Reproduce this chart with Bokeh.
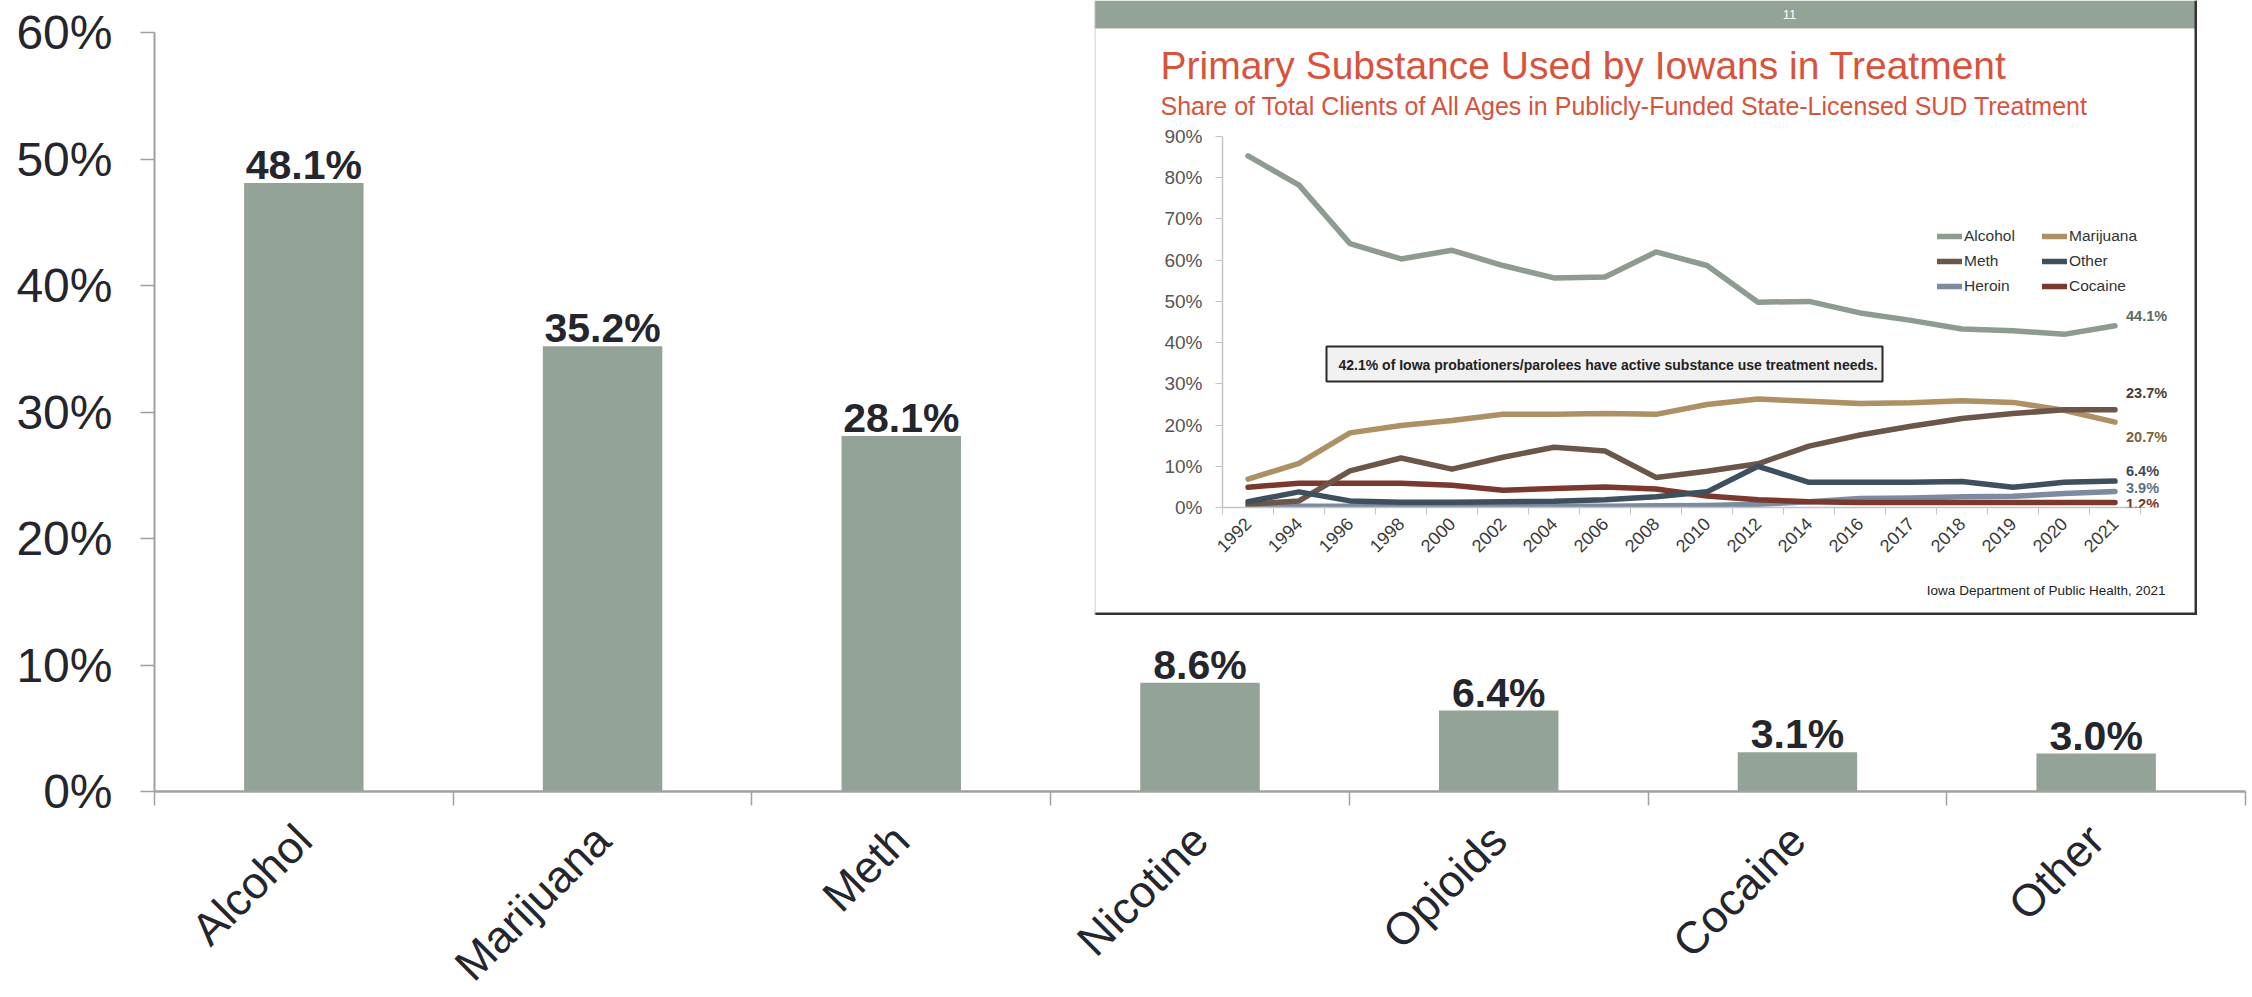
import math
from bokeh.plotting import figure
from bokeh.models import (ColumnDataSource, Range1d, FixedTicker, NumeralTickFormatter,
                          LabelSet, Label, Legend, LegendItem, Column)
from bokeh.embed import file_html
from bokeh.resources import INLINE
from bokeh.core.properties import value

# ---------------- data: main bar chart ----------------
substances = ["Alcohol", "Marijuana", "Meth", "Nicotine", "Opioids", "Cocaine", "Other"]
shares = [48.1, 35.2, 28.1, 8.6, 6.4, 3.1, 3.0]
main_y_ticks = [0, 10, 20, 30, 40, 50, 60]

# ---------------- data: inset line chart ----------------
years = ["1992", "1994", "1996", "1998", "2000", "2002", "2004", "2006", "2008",
         "2010", "2012", "2014", "2016", "2017", "2018", "2019", "2020", "2021"]
alcohol = [85.3, 78.2, 64.0, 60.3, 62.4, 58.7, 55.7, 55.9, 62.0, 58.7, 49.8, 50.0, 47.2, 45.4, 43.3, 42.9, 42.0, 44.1]
marijuana = [6.9, 10.7, 18.1, 19.9, 21.1, 22.6, 22.6, 22.8, 22.6, 25.0, 26.3, 25.8, 25.2, 25.4, 25.9, 25.5, 23.6, 20.7]
meth = [0.8, 1.6, 8.9, 12.0, 9.3, 12.2, 14.6, 13.7, 7.3, 8.8, 10.6, 14.9, 17.6, 19.7, 21.6, 22.8, 23.7, 23.7]
other = [1.4, 3.8, 1.6, 1.3, 1.3, 1.4, 1.5, 1.9, 2.6, 3.8, 10.0, 6.1, 6.1, 6.1, 6.3, 4.9, 6.1, 6.4]
heroin = [0.3, 0.3, 0.3, 0.3, 0.3, 0.3, 0.3, 0.3, 0.4, 0.5, 0.8, 1.4, 2.2, 2.3, 2.6, 2.7, 3.4, 3.9]
cocaine = [4.9, 5.9, 5.9, 5.9, 5.4, 4.2, 4.6, 5.0, 4.5, 2.8, 1.9, 1.4, 1.2, 1.2, 1.2, 1.2, 1.2, 1.2]
inset_y_ticks = [0, 10, 20, 30, 40, 50, 60, 70, 80, 90]

inset_title = "Primary Substance Used by Iowans in Treatment"
inset_subtitle = "Share of Total Clients of All Ages in Publicly-Funded State-Licensed SUD Treatment"
inset_note = "42.1% of Iowa probationers/parolees have active substance use treatment needs."
inset_source = "Iowa Department of Public Health, 2021"
inset_page = "11"

# ---------------- styles ----------------
FONT = "Liberation Sans"
BAR = "#94a397"
DARK = "#25252d"
AXIS_GREY = "#a0a0a0"
RED = "#d8533c"

# ================= main figure =================
main = figure(width=2252, height=1026,
              x_range=Range1d(0, len(substances)), y_range=Range1d(0, 0.6),
              output_backend="svg", toolbar_location=None,
              min_border_left=154, min_border_right=7,
              min_border_top=32, min_border_bottom=235,
              outline_line_color=None)
main.xgrid.visible = False
main.ygrid.visible = False

xs = [i + 0.5 for i in range(len(substances))]
src = ColumnDataSource(dict(x=xs, top=[s / 100 for s in shares],
                            label=[f"{s:.1f}%" for s in shares]))
main.vbar(x="x", top="top", bottom=0, width=0.4, source=src,
          fill_color=BAR, line_color=None)
main.add_layout(LabelSet(x="x", y="top", text="label", source=src,
                         text_align="center", text_baseline="alphabetic", y_offset=4,
                         text_font=value(FONT), text_font_size="41px",
                         text_font_style="bold", text_color=DARK))

xa = main.xaxis[0]
xa.ticker = FixedTicker(ticks=xs, minor_ticks=list(range(len(substances) + 1)))
xa.major_label_overrides = {x: s for x, s in zip(xs, substances)}
xa.major_label_orientation = math.pi / 4
xa.major_tick_out = 0
xa.major_tick_in = 0
xa.minor_tick_out = 14
xa.minor_tick_in = 0
xa.minor_tick_line_color = AXIS_GREY
xa.minor_tick_line_width = 1.5
xa.axis_line_color = AXIS_GREY
xa.axis_line_width = 2.5
xa.major_label_text_font = FONT
xa.major_label_text_font_size = "45px"
xa.major_label_text_color = DARK
xa.major_label_standoff = 27

ya = main.yaxis[0]
ya.ticker = FixedTicker(ticks=[t / 100 for t in main_y_ticks])
ya.formatter = NumeralTickFormatter(format="0%")
ya.major_tick_out = 14
ya.major_tick_in = 0
ya.minor_tick_line_color = None
ya.major_tick_line_color = AXIS_GREY
ya.major_tick_line_width = 1.5
ya.axis_line_color = AXIS_GREY
ya.axis_line_width = 2
ya.major_label_text_font = FONT
ya.major_label_text_font_size = "48px"
ya.major_label_text_color = DARK
ya.major_label_standoff = 28

# the rotated category labels run off the bottom edge as in the original:
# the figure is a little taller than the window, the holder clips it at 997 px
main.margin = (0, 0, -29, 0)
main_holder = Column(children=[main], styles={"overflow": "hidden"})

# ================= inset background =================
W_IN, H_IN = 1103, 615
bg = figure(width=W_IN, height=H_IN, x_range=Range1d(0, W_IN), y_range=Range1d(H_IN, 0),
            x_axis_type=None, y_axis_type=None, toolbar_location=None,
            min_border=0, output_backend="svg", outline_line_color=None,
            background_fill_color="white", border_fill_color="white")
bg.xgrid.visible = False
bg.ygrid.visible = False
bg.quad(left=0, right=W_IN, top=0, bottom=28, fill_color=BAR, line_color=None)
bg.text(x=[695], y=[14], text=[inset_page], text_color="white", text_font=value(FONT),
        text_font_size="13px", text_align="center", text_baseline="middle")
bg.text(x=[66], y=[65], text=[inset_title], text_color=RED, text_font=value(FONT),
        text_font_size="39px", text_align="left", text_baseline="alphabetic")
bg.text(x=[66], y=[105], text=[inset_subtitle], text_color=RED, text_font=value(FONT),
        text_font_size="25px", text_align="left", text_baseline="alphabetic")
bg.quad(left=232, right=788, top=346, bottom=381, fill_color="#f1f1f1",
        line_color="#2a2a2a", line_width=2)
bg.text(x=[244], y=[364], text=[inset_note], text_color="#222222", text_font=value(FONT),
        text_font_size="14px", text_font_style="bold", text_align="left", text_baseline="middle")
bg.text(x=[1071], y=[590], text=[inset_source], text_color="#222222", text_font=value(FONT),
        text_font_size="13.5px", text_align="right", text_baseline="alphabetic")
bg.segment(x0=[W_IN - 1.5, 0], y0=[0, H_IN - 1.5], x1=[W_IN - 1.5, W_IN], y1=[H_IN, H_IN - 1.5],
           line_color="#333333", line_width=3)
bg.segment(x0=[0.5], y0=[0], x1=[0.5], y1=[H_IN], line_color="#c0c0c0", line_width=1)

# ================= inset line chart =================
# one extra empty slot on the right of the frame holds the end-of-line value labels
lp = figure(width=W_IN, height=H_IN, x_range=Range1d(0, len(years) + 1), y_range=Range1d(0, 0.9),
            min_border_left=128, min_border_right=6, min_border_top=136, min_border_bottom=108,
            output_backend="svg", toolbar_location=None,
            background_fill_color=None, border_fill_color=None, outline_line_color=None)
lp.xgrid.visible = False
lp.ygrid.visible = False

ix = [i + 0.5 for i in range(len(years))]
series = {
    "Alcohol": (alcohol, "#8d9b90", "#5a6862", 10),
    "Marijuana": (marijuana, "#ad9063", "#7d6239", -15),
    "Meth": (meth, "#6c5549", "#4a3b35", 17),
    "Other": (other, "#3e4f5d", "#394a5a", 10),
    "Heroin": (heroin, "#7d8ba0", "#5d6f88", 3),
    "Cocaine": (cocaine, "#7a392c", "#7a3326", -1),
}
draw_order = ["Heroin", "Cocaine", "Marijuana", "Meth", "Other", "Alcohol"]
renderers = {}
for name in draw_order:
    vals, col, _, _ = series[name]
    renderers[name] = lp.line(ix, [v / 100 for v in vals], line_color=col, line_width=5.5,
                              line_join="round", line_cap="round")

for name, (vals, col, lcol, dy) in series.items():
    lp.add_layout(Label(x=ix[-1], y=vals[-1] / 100, text=f"{vals[-1]:.1f}%",
                        x_offset=11, y_offset=dy, text_align="left", text_baseline="middle",
                        text_font=FONT, text_font_size="14.5px", text_font_style="bold",
                        text_color=lcol))

legend_order = ["Alcohol", "Meth", "Heroin", "Marijuana", "Other", "Cocaine"]
leg = Legend(items=[LegendItem(label=n, renderers=[renderers[n]]) for n in legend_order],
             nrows=3, location=(715, 211), glyph_width=25, glyph_height=20,
             label_standoff=2, spacing=5, padding=0, margin=0, label_width=73,
             label_text_font=FONT, label_text_font_size="15.5px", label_text_color="#333333",
             border_line_color=None, background_fill_alpha=0)
lp.add_layout(leg)

lxa = lp.xaxis[0]
lxa.bounds = (0, len(years))
lxa.ticker = FixedTicker(ticks=ix, minor_ticks=list(range(len(years) + 1)))
lxa.major_label_overrides = {x: y for x, y in zip(ix, years)}
lxa.major_label_orientation = math.pi / 4
lxa.major_tick_out = 0
lxa.major_tick_in = 0
lxa.minor_tick_out = 7
lxa.minor_tick_in = 0
lxa.minor_tick_line_color = "#c4c4c4"
lxa.axis_line_color = "#c4c4c4"
lxa.axis_line_width = 1.5
lxa.major_label_text_font = FONT
lxa.major_label_text_font_size = "18px"
lxa.major_label_text_color = "#3a3a3a"
lxa.major_label_standoff = 6

lya = lp.yaxis[0]
lya.ticker = FixedTicker(ticks=[t / 100 for t in inset_y_ticks])
lya.formatter = NumeralTickFormatter(format="0%")
lya.major_tick_out = 7
lya.major_tick_in = 0
lya.minor_tick_line_color = None
lya.major_tick_line_color = "#c4c4c4"
lya.axis_line_color = "#c4c4c4"
lya.axis_line_width = 1.5
lya.major_label_text_font = FONT
lya.major_label_text_font_size = "19px"
lya.major_label_text_color = "#555555"
lya.major_label_standoff = 13

# inset placed over the bar chart (page coordinates)
inset_pos = {"position": "absolute", "left": "1094px", "top": "0px"}
bg.styles = dict(inset_pos)
lp.styles = dict(inset_pos)

open("out.html", "w").write(file_html([main_holder, bg, lp], INLINE))
